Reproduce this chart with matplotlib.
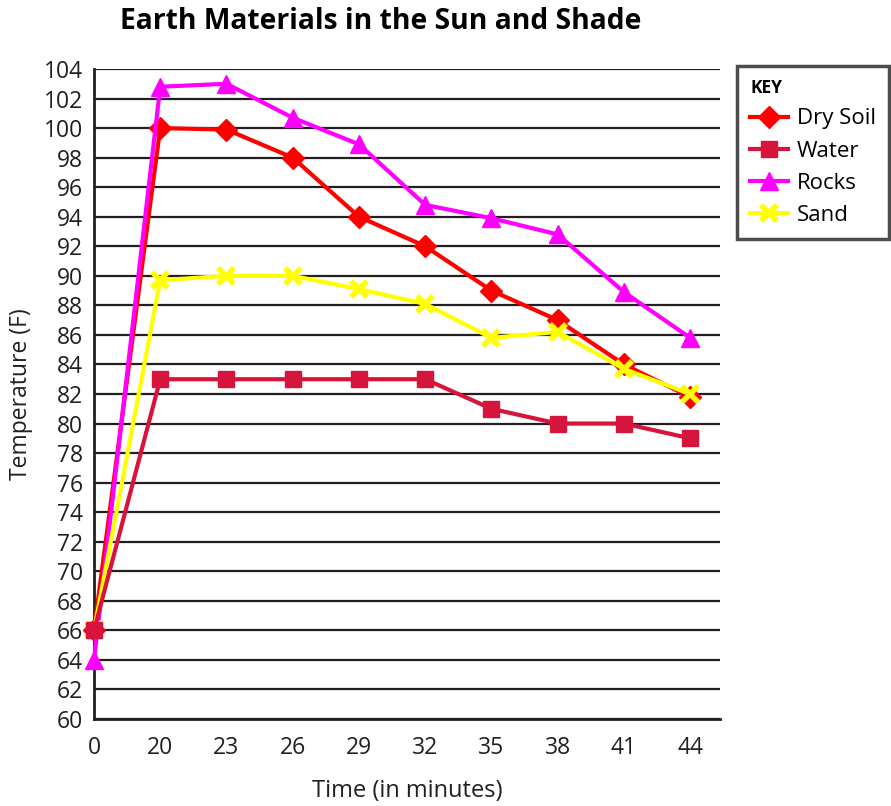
import matplotlib.pyplot as plt
import numpy as np

plt.rcParams['font.family'] = ['Open Sans', 'DejaVu Sans']

# data
time_labels = ['0', '20', '23', '26', '29', '32', '35', '38', '41', '44']
dry_soil = [66, 100, 99.9, 98, 94, 92, 89, 87, 84, 81.8]
water = [66, 83, 83, 83, 83, 83, 81, 80, 80, 79]
rocks = [64, 102.8, 103, 100.7, 98.9, 94.8, 93.9, 92.8, 88.9, 85.8]
sand = [66, 89.7, 90, 90, 89.1, 88.1, 85.8, 86.2, 83.7, 82]
y_ticks = list(range(60, 105, 2))

fig = plt.figure(figsize=(8.91, 8.06), dpi=100)
ax = fig.add_axes([94 / 891, 1 - 719 / 806, (720 - 94) / 891, (719 - 69) / 806])

x = np.arange(len(time_labels))

# horizontal grid lines
for yv in y_ticks:
    ax.axhline(yv, color='#231f20', lw=1.6, zorder=1)

series = [
    ("Dry Soil", dry_soil, '#ff0000', 'D', 11, 3),
    ("Water", water, '#d7143c', 's', 11, 5),
    ("Rocks", rocks, '#ff00ff', '^', 13, 3),
    ("Sand", sand, '#ffff00', 'x', 11, 4),
]
for name, vals, col, mk, ms, z in series:
    ax.plot(x, vals, color=col, lw=3, marker=mk, markersize=ms,
            markeredgewidth=4 if mk == 'x' else 1, markeredgecolor=col,
            label=name, zorder=z, clip_on=False)

ax.set_xlim(0, 9.45)
ax.set_ylim(60, 104)
ax.set_xticks(x)
ax.set_xticklabels(time_labels)
ax.set_yticks(y_ticks)
ax.tick_params(length=0, labelsize=16.5, colors='#231f20')
ax.tick_params(axis='x', pad=12)
ax.tick_params(axis='y', pad=8)

for s in ['top', 'right']:
    ax.spines[s].set_visible(False)
for s in ['left', 'bottom']:
    ax.spines[s].set_color('#231f20')
    ax.spines[s].set_linewidth(2)

ax.set_xlabel("Time (in minutes)", fontsize=17, color='#231f20', labelpad=14)
ax.set_ylabel("Temperature (F)", fontsize=16.5, color='#231f20', labelpad=8)
fig.suptitle("Earth Materials in the Sun and Shade", fontsize=20.3,
             fontweight='bold', x=381 / 891, y=1 - 7 / 806, va='top')

leg = fig.legend(loc='upper left', bbox_to_anchor=(737 / 891, 1 - 66 / 806),
                 title="KEY", fontsize=16, handlelength=1.7, borderpad=0.6,
                 labelspacing=0.5, handletextpad=0.4, frameon=True,
                 fancybox=False, edgecolor='#231f20', borderaxespad=0)
leg.get_frame().set_linewidth(2.5)
leg.get_title().set_fontweight('bold')
leg.get_title().set_fontsize(12.5)
leg._legend_box.align = 'left'

fig.savefig('out.png', dpi=100)
